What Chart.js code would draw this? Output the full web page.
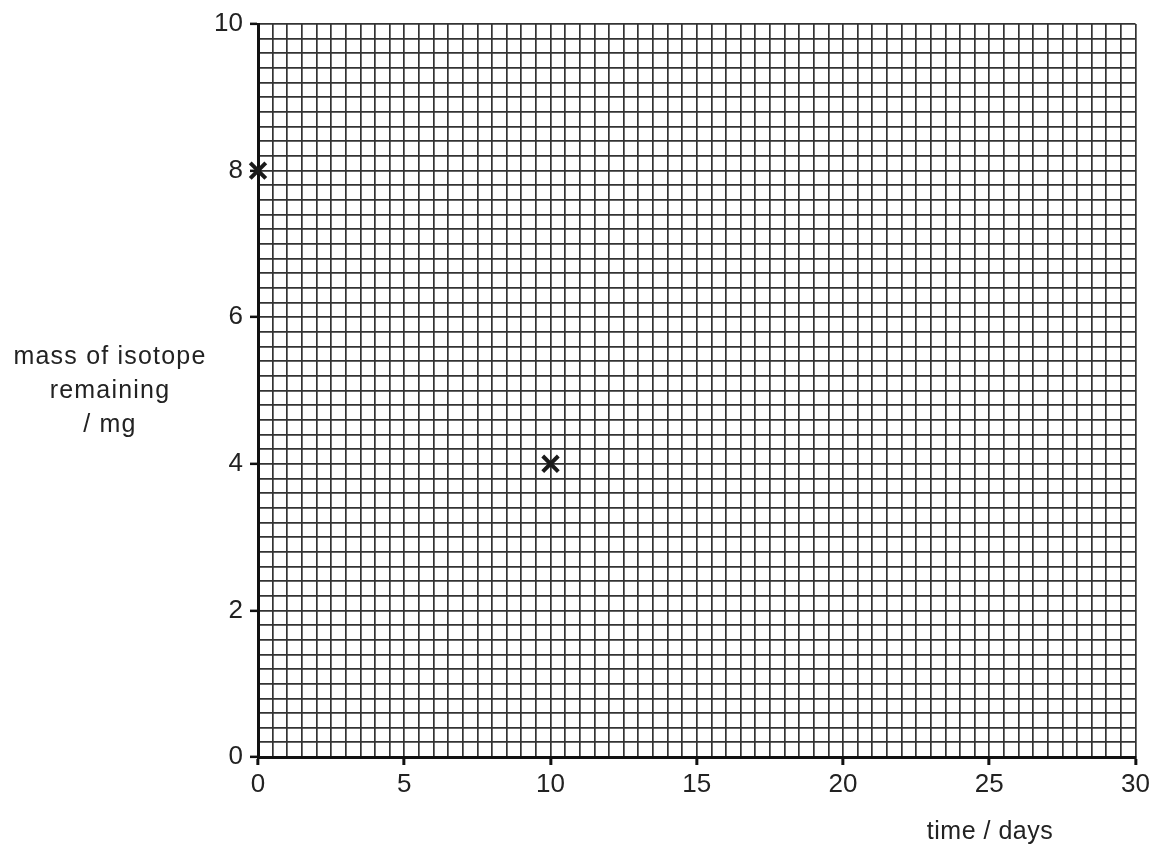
<!DOCTYPE html>
<html>
<head>
<meta charset="utf-8">
<script src="https://cdn.jsdelivr.net/npm/chart.js@4.4.1/dist/chart.umd.min.js"></script>
<style>
  html,body{margin:0;padding:0;background:#fff;}
  #wrap{position:relative;width:1154px;height:846px;}
  .lbl{position:absolute;font-family:"Liberation Sans",Arial,sans-serif;color:#222;font-size:25px;line-height:34px;white-space:nowrap;}
</style>
</head>
<body>
<div id="wrap">
  <canvas id="chart" width="1154" height="846"></canvas>
  <div class="lbl" id="ytitle" style="left:0;top:338px;width:220px;text-align:center;letter-spacing:1.2px">mass of isotope<br>remaining<br>/ mg</div>
  <div class="lbl" id="xtitle" style="left:910px;top:813px;width:160px;text-align:center;letter-spacing:0.5px">time / days</div>
</div>
<script>
// ── data ──
const X_MIN = 0, X_MAX = 30, X_STEP = 0.5, X_LABEL_EVERY = 5;
const Y_MIN = 0, Y_MAX = 10, Y_STEP = 0.2, Y_LABEL_EVERY = 2;
const timeDays = [0, 10];
const massMg   = [8, 4];

const GRID = '#333';
const INK  = '#222';
const FONT = '"Liberation Sans", Arial, sans-serif';

function isMultiple(v, m){ return Math.abs(v - Math.round(v/m)*m) < 1e-6; }

const points = timeDays.map((t,i)=>({x:t, y:massMg[i]}));

new Chart(document.getElementById('chart'), {
  type:'scatter',
  data:{ datasets:[{
    data: points,
    pointStyle:'crossRot', pointRadius:11, pointHoverRadius:11,
    borderColor:'#1a1a1a', backgroundColor:'#1a1a1a', borderWidth:4, clip:false
  }]},
  options:{
    responsive:false, animation:false,
    layout:{ padding:{ top:24, right:18, left:0, bottom:0 } },
    plugins:{ legend:{display:false}, tooltip:{enabled:false} },
    scales:{
      x:{
        type:'linear', min:X_MIN, max:X_MAX,
        afterFit: s => { s.height = 89; },
        border:{ display:true, color:'#111', width:3 },
        grid:{
          color:GRID, lineWidth:1.7, drawTicks:true, tickLength:8,
          tickColor: c => isMultiple(c.tick.value, X_LABEL_EVERY) ? '#111' : 'rgba(0,0,0,0)',
          tickWidth:3
        },
        ticks:{
          stepSize:X_STEP, autoSkip:false, maxRotation:0, padding:4,
          color:INK, font:{ family:FONT, size:26 },
          callback: v => isMultiple(v, X_LABEL_EVERY) ? String(Math.round(v)) : ''
        }
      },
      y:{
        type:'linear', min:Y_MIN, max:Y_MAX,
        afterFit: s => { s.width = 258; },
        border:{ display:true, color:'#111', width:3 },
        grid:{
          color:GRID, lineWidth:1.7, drawTicks:true, tickLength:8,
          tickColor: c => isMultiple(c.tick.value, Y_LABEL_EVERY) ? '#111' : 'rgba(0,0,0,0)',
          tickWidth:2.5
        },
        ticks:{
          stepSize:Y_STEP, autoSkip:false, padding:7,
          color:INK, font:{ family:FONT, size:26 },
          callback: v => isMultiple(v, Y_LABEL_EVERY) ? String(Math.round(v)) : ''
        }
      }
    }
  }
});
</script>
</body>
</html>
